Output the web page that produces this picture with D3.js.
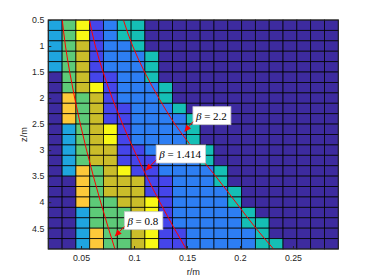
<!DOCTYPE html>
<html><head><meta charset="utf-8">
<script src="https://cdn.jsdelivr.net/npm/d3@7"></script>
<style>body{margin:0;background:#fff}svg{display:block}</style>
</head><body><svg id="c" width="374" height="280"></svg>
<script>
// ---- data ----
const rCells = [0.0256,0.0387,0.0517,0.0647,0.0777,0.0908,0.1038,0.1168,0.1299,0.1429,0.1559,0.1690,0.1820,0.1950,0.2081,0.2211,0.2341,0.2472,0.2602,0.2732,0.2863];
const zCells = [0.6,0.8,1.0,1.2,1.4,1.6,1.8,2.0,2.2,2.4,2.6,2.8,3.0,3.2,3.4,3.6,3.8,4.0,4.2,4.4,4.6,4.8];
// level per cell (1 = lowest ... 9 = highest), one row per z
const levels = [
 [4,6,9,2,3,5,5,1,1,1,1,1,1,1,1,1,1,1,1,1,1],
 [4,6,9,2,3,5,5,1,1,1,1,1,1,1,1,1,1,1,1,1,1],
 [4,6,7,2,3,3,5,1,1,1,1,1,1,1,1,1,1,1,1,1,1],
 [4,6,7,2,3,3,3,5,1,1,1,1,1,1,1,1,1,1,1,1,1],
 [4,6,7,2,3,3,3,5,1,1,1,1,1,1,1,1,1,1,1,1,1],
 [1,6,7,2,2,3,3,5,1,1,1,1,1,1,1,1,1,1,1,1,1],
 [1,6,7,9,2,3,3,3,5,1,1,1,1,1,1,1,1,1,1,1,1],
 [1,8,6,7,2,3,3,3,5,1,1,1,1,1,1,1,1,1,1,1,1],
 [1,8,6,7,2,2,3,3,3,5,1,1,1,1,1,1,1,1,1,1,1],
 [1,8,6,7,2,2,3,3,3,3,5,1,1,1,1,1,1,1,1,1,1],
 [1,4,6,7,9,2,3,3,3,3,5,1,1,1,1,1,1,1,1,1,1],
 [1,4,6,7,9,2,3,3,3,3,5,1,1,1,1,1,1,1,1,1,1],
 [1,4,6,7,7,2,2,3,3,3,3,5,1,1,1,1,1,1,1,1,1],
 [1,4,6,7,7,2,2,2,3,3,3,5,1,1,1,1,1,1,1,1,1],
 [1,4,8,6,7,9,2,2,3,3,3,3,5,1,1,1,1,1,1,1,1],
 [1,1,8,6,7,7,7,2,2,3,3,3,5,1,1,1,1,1,1,1,1],
 [1,1,8,6,7,7,7,2,2,3,3,3,3,5,1,1,1,1,1,1,1],
 [1,1,8,6,6,7,7,9,2,3,3,3,3,5,1,1,1,1,1,1,1],
 [1,1,4,6,6,6,7,9,2,3,3,3,3,3,5,1,1,1,1,1,1],
 [1,1,4,6,6,6,7,9,2,3,3,3,3,3,5,5,1,1,1,1,1],
 [1,1,4,8,6,6,7,9,2,2,3,3,3,3,3,5,1,1,1,1,1],
 [1,1,4,8,6,6,7,9,2,2,3,3,3,3,3,5,5,1,1,1,1]
];
const levelDomain = [1,2,3,4,5,6,7,8,9];
const xTicks = [0.05,0.1,0.15,0.2,0.25];
const yTicks = [0.5,1,1.5,2,2.5,3,3.5,4,4.5];
const xLabel = "r/m", yLabel = "z/m";
const curveZ    = [0.5,1.0,1.5,2.0,2.5,3.0,3.5,4.0,4.5,4.9];
const curveR_08 = [0.0323,0.0353,0.0393,0.0440,0.0493,0.0552,0.0616,0.0685,0.0758,0.0820];
const curveR_14 = [0.0579,0.0635,0.0708,0.0794,0.0892,0.1000,0.1118,0.1244,0.1379,0.1492];
const curveR_22 = [0.0900,0.0987,0.1100,0.1234,0.1386,0.1570,0.1770,0.1960,0.2150,0.2317];
const betaLabels = ["2.2","1.414","0.8"];
const tipR  = [0.1474,0.1108,0.0817];
const tipZ  = [2.65,3.395,4.66];
const tailR = [0.1556,0.1209,0.0909];
const tailZ = [2.454,3.19,4.471];

// ---- styles ----
const palette = ["#3d2b9f","#4545ea","#2d7ef3","#1fa5df","#15bfb5","#5dca78","#cabd2a","#fdc93a","#f8f815"];

const svg = d3.select("#c");
const L=48.3, T=20, R=338.3, B=249;
const x = d3.scaleLinear().domain([0.0191,0.2928]).range([L,R]);
const y = d3.scaleLinear().domain([0.5,4.9]).range([T,B]);
const color = d3.scaleOrdinal().domain(levelDomain).range(palette);

const dr = rCells[1]-rCells[0], dz = zCells[1]-zCells[0];
const cells = [];
levels.forEach((row,i)=>row.forEach((v,j)=>cells.push({r:rCells[j], z:zCells[i], v})));

svg.append("defs").append("clipPath").attr("id","clip")
  .append("rect").attr("x",L).attr("y",T).attr("width",R-L).attr("height",B-T);

svg.append("g").selectAll("rect").data(cells).join("rect")
  .attr("x",d=>x(d.r-dr/2)).attr("y",d=>y(d.z-dz/2))
  .attr("width",d=>x(d.r+dr/2)-x(d.r-dr/2)).attr("height",d=>y(d.z+dz/2)-y(d.z-dz/2))
  .attr("fill",d=>color(d.v))
  .attr("stroke","#000").attr("stroke-width",0.9).attr("stroke-opacity",0.85);

// curves
const line = d3.line().x(d=>x(d[0])).y(d=>y(d[1])).curve(d3.curveMonotoneY);
const gl = svg.append("g").attr("clip-path","url(#clip)");
[curveR_08,curveR_14,curveR_22].forEach(arr=>{
  gl.append("path").datum(arr.map((r,i)=>[r,curveZ[i]]))
    .attr("d",line).attr("fill","none").attr("stroke","#f00").attr("stroke-width",1);
});

// axes
const font = "'Liberation Sans', Arial, sans-serif";
const ax = svg.append("g").attr("transform",`translate(0,${B})`)
  .call(d3.axisBottom(x).tickValues(xTicks).tickSize(-3).tickPadding(6).tickFormat(d=>String(d)));
const ay = svg.append("g").attr("transform",`translate(${L},0)`)
  .call(d3.axisLeft(y).tickValues(yTicks).tickSize(-3).tickPadding(4).tickFormat(d=>String(d)));
[ax,ay].forEach(g=>{
  g.select(".domain").remove();
  g.selectAll("line").attr("stroke","#262626");
  g.selectAll("text").attr("fill","#262626").style("font-family",font).style("font-size","8.8px");
});
svg.append("rect").attr("x",L).attr("y",T).attr("width",R-L).attr("height",B-T)
  .attr("fill","none").attr("stroke","#262626").attr("stroke-width",1);

svg.append("text").attr("x",(L+R)/2).attr("y",275).attr("text-anchor","middle")
  .style("font-family",font).style("font-size","9.2px").attr("fill","#262626").text(xLabel);
svg.append("text").attr("transform",`translate(27,${(T+B)/2}) rotate(-90)`).attr("text-anchor","middle")
  .style("font-family",font).style("font-size","9.2px").attr("fill","#262626").text(yLabel);

// annotations
betaLabels.forEach((lab,i)=>{
  const tx=x(tailR[i]), ty=y(tailZ[i]), px=x(tipR[i]), py=y(tipZ[i]);
  const g = svg.append("g");
  const rect = g.append("rect");
  const t = g.append("text").attr("x",tx+3).attr("y",ty-2)
    .style("font-family","'Liberation Serif','Times New Roman',serif").style("font-size","11px").attr("fill","#000");
  t.append("tspan").style("font-style","italic").text("β");
  t.append("tspan").text(" = "+lab);
  const bb = t.node().getBBox();
  rect.attr("x",tx).attr("y",ty+3-18).attr("width",bb.width+6).attr("height",18)
    .attr("fill","#fff").attr("stroke","#c8c8c8").attr("stroke-width",0.8);
  const dx=px-tx, dy=py-ty, len=Math.hypot(dx,dy), ux=dx/len, uy=dy/len;
  const Lh=7, Wh=3;
  const bx=px-ux*Lh, by=py-uy*Lh;
  g.append("line").attr("x1",tx).attr("y1",ty).attr("x2",bx).attr("y2",by)
    .attr("stroke","#f00").attr("stroke-width",1);
  g.append("path").attr("d",`M${px},${py}L${bx-uy*Wh},${by+ux*Wh}L${bx+uy*Wh},${by-ux*Wh}Z`)
    .attr("fill","#f00");
});
</script></body></html>
